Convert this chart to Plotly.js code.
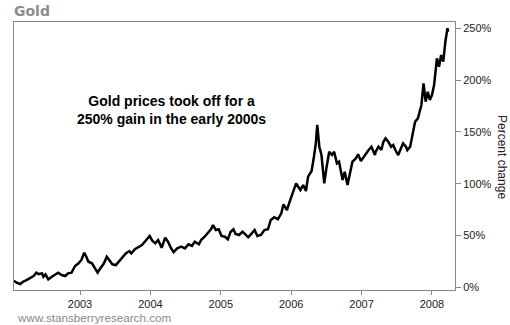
<!DOCTYPE html>
<html>
<head>
<meta charset="utf-8">
<script src="https://cdn.plot.ly/plotly-3.0.1.min.js"></script>
<style>
  html, body { margin: 0; padding: 0; background: #fff; }
  #chart { width: 510px; height: 325px; }
</style>
</head>
<body>
<div id="chart"></div>
<script>
// Time in decimal years, gold price change in percent
const years = [
  2002.06, 2002.10, 2002.15, 2002.19, 2002.24, 2002.29, 2002.34, 2002.38, 2002.41, 2002.46,
  2002.48, 2002.51, 2002.55, 2002.60, 2002.64, 2002.69, 2002.74, 2002.79, 2002.83, 2002.88,
  2002.93, 2002.98, 2003.02, 2003.06, 2003.09, 2003.12, 2003.17, 2003.21, 2003.25, 2003.28,
  2003.34, 2003.38, 2003.42, 2003.46, 2003.51, 2003.56, 2003.61, 2003.65, 2003.70, 2003.73,
  2003.78, 2003.83, 2003.88, 2003.92, 2003.99, 2004.03, 2004.07, 2004.11, 2004.16, 2004.21,
  2004.25, 2004.29, 2004.33, 2004.38, 2004.44, 2004.49, 2004.54, 2004.59, 2004.63, 2004.69,
  2004.72, 2004.77, 2004.81, 2004.86, 2004.89, 2004.93, 2004.97, 2005.01, 2005.06, 2005.10,
  2005.14, 2005.18, 2005.21, 2005.26, 2005.31, 2005.34, 2005.39, 2005.44, 2005.48, 2005.52,
  2005.57, 2005.62, 2005.67, 2005.71, 2005.76, 2005.81, 2005.86, 2005.89, 2005.94, 2005.97,
  2006.02, 2006.07, 2006.10, 2006.13, 2006.17, 2006.21, 2006.24, 2006.29, 2006.32, 2006.35,
  2006.37, 2006.40, 2006.43, 2006.47, 2006.50, 2006.54, 2006.58, 2006.61, 2006.65, 2006.68,
  2006.73, 2006.76, 2006.80, 2006.84, 2006.87, 2006.92, 2006.95, 2006.99, 2007.02, 2007.06,
  2007.10, 2007.14, 2007.19, 2007.20, 2007.24, 2007.28, 2007.31, 2007.34, 2007.38, 2007.42,
  2007.45, 2007.48, 2007.52, 2007.56, 2007.59, 2007.63, 2007.65, 2007.69, 2007.72, 2007.76,
  2007.80, 2007.83, 2007.85, 2007.88, 2007.91, 2007.94, 2007.97, 2008.00, 2008.03, 2008.07,
  2008.10, 2008.13, 2008.16, 2008.19, 2008.22, 2008.23
];
const pctChange = [
  6.4, 4.4, 3.2, 5.4, 7.0, 8.7, 10.9, 14.1, 12.8, 13.5,
  10.2, 12.5, 7.7, 10.2, 11.9, 14.1, 11.9, 10.9, 13.5, 14.1,
  20.6, 23.2, 26.4, 33.4, 29.5, 24.7, 23.2, 18.3, 14.1, 17.4,
  23.2, 29.5, 25.7, 22.2, 21.5, 25.4, 29.5, 32.8, 35.0, 32.8,
  36.7, 39.2, 40.8, 44.0, 49.5, 44.7, 42.5, 45.7, 38.2, 47.9,
  44.0, 38.2, 33.8, 37.6, 39.2, 37.6, 41.5, 39.9, 44.0, 41.5,
  45.7, 48.8, 52.1, 56.0, 60.1, 55.3, 56.0, 49.5, 48.8, 46.3,
  53.7, 56.0, 51.4, 50.5, 53.7, 51.4, 48.3, 52.1, 55.3, 49.5,
  50.5, 55.3, 56.0, 65.0, 67.6, 65.6, 71.4, 80.1, 74.6, 81.0,
  89.8, 100.4, 97.1, 93.9, 98.7, 93.0, 106.8, 112.3, 124.5, 139.0,
  156.7, 135.7, 127.7, 100.4, 114.9, 130.9, 127.7, 130.9, 119.7, 121.2,
  103.6, 111.6, 98.7, 110.0, 121.2, 124.5, 128.4, 121.9, 125.1, 129.3,
  132.5, 135.7, 127.7, 130.9, 135.7, 132.5, 140.5, 143.8, 140.5, 135.7,
  137.4, 132.5, 127.7, 134.2, 139.0, 135.7, 132.5, 135.7, 147.0, 159.8,
  163.1, 169.5, 176.0, 196.9, 179.2, 188.8, 180.8, 185.6, 195.3, 221.0,
  212.9, 224.2, 217.8, 237.1, 250.0, 246.7
];
const xTickVals = [2003, 2004, 2005, 2006, 2007, 2008];
const xTickText = ['2003', '2004', '2005', '2006', '2007', '2008'];
const yTickVals = [0, 50, 100, 150, 200, 250];
const yTickText = ['0%', '50%', '100%', '150%', '200%', '250%'];

const trace = {
  x: years,
  y: pctChange,
  type: 'scatter',
  mode: 'lines',
  line: { color: '#000000', width: 2.5 },
  hoverinfo: 'skip'
};

const layout = {
  width: 510,
  height: 325,
  margin: { l: 14, r: 55, t: 22, b: 35 },
  paper_bgcolor: '#ffffff',
  plot_bgcolor: '#ffffff',
  showlegend: false,
  font: { family: 'Liberation Sans, Arial, sans-serif', size: 11, color: '#222' },
  title: {
    text: '<b>Gold</b>',
    xref: 'container', yref: 'container',
    x: 14 / 510, xanchor: 'left',
    y: 1 - 11 / 325, yanchor: 'middle',
    font: { family: 'DejaVu Sans, Verdana, sans-serif', size: 14, color: '#8c8c8c' }
  },
  xaxis: {
    type: 'linear',
    range: [2002.0625, 2008.327],
    tickmode: 'array',
    tickvals: xTickVals,
    ticktext: xTickText,
    ticks: 'outside', ticklen: 4, tickcolor: '#888',
    showgrid: false, zeroline: false,
    showline: true, mirror: true, linecolor: '#888', linewidth: 1,
    tickfont: { size: 11, color: '#222' },
    fixedrange: true
  },
  yaxis: {
    side: 'right',
    range: [-2.6, 256.1],
    tickmode: 'array',
    tickvals: yTickVals,
    ticktext: yTickText,
    ticks: 'outside', ticklen: 5, tickcolor: '#888',
    showgrid: false, zeroline: false,
    showline: true, mirror: true, linecolor: '#888', linewidth: 1,
    tickfont: { size: 11, color: '#222' },
    fixedrange: true
  },
  annotations: [
    {
      text: '<b>Gold prices took off for a<br>250% gain in the early 2000s</b>',
      xref: 'paper', yref: 'paper',
      x: (171 - 14) / 441, y: (290 - 110) / 268,
      xanchor: 'center', yanchor: 'middle',
      showarrow: false, align: 'center',
      font: { family: 'Liberation Sans, Arial, sans-serif', size: 14, color: '#000' }
    },
    {
      text: 'Percent change',
      xref: 'paper', yref: 'paper',
      x: (502 - 14) / 441, y: (290 - 157) / 268,
      xanchor: 'center', yanchor: 'middle',
      textangle: 90,
      showarrow: false,
      font: { family: 'Liberation Sans, Arial, sans-serif', size: 12, color: '#222' }
    },
    {
      text: 'www.stansberryresearch.com',
      xref: 'paper', yref: 'paper',
      x: (15 - 14) / 441, y: (290 - 317) / 268,
      xanchor: 'left', yanchor: 'middle',
      showarrow: false,
      font: { family: 'Liberation Sans, Arial, sans-serif', size: 11.7, color: '#8a8a8a' }
    }
  ]
};

Plotly.newPlot('chart', [trace], layout, { staticPlot: true, displayModeBar: false });
</script>
</body>
</html>
